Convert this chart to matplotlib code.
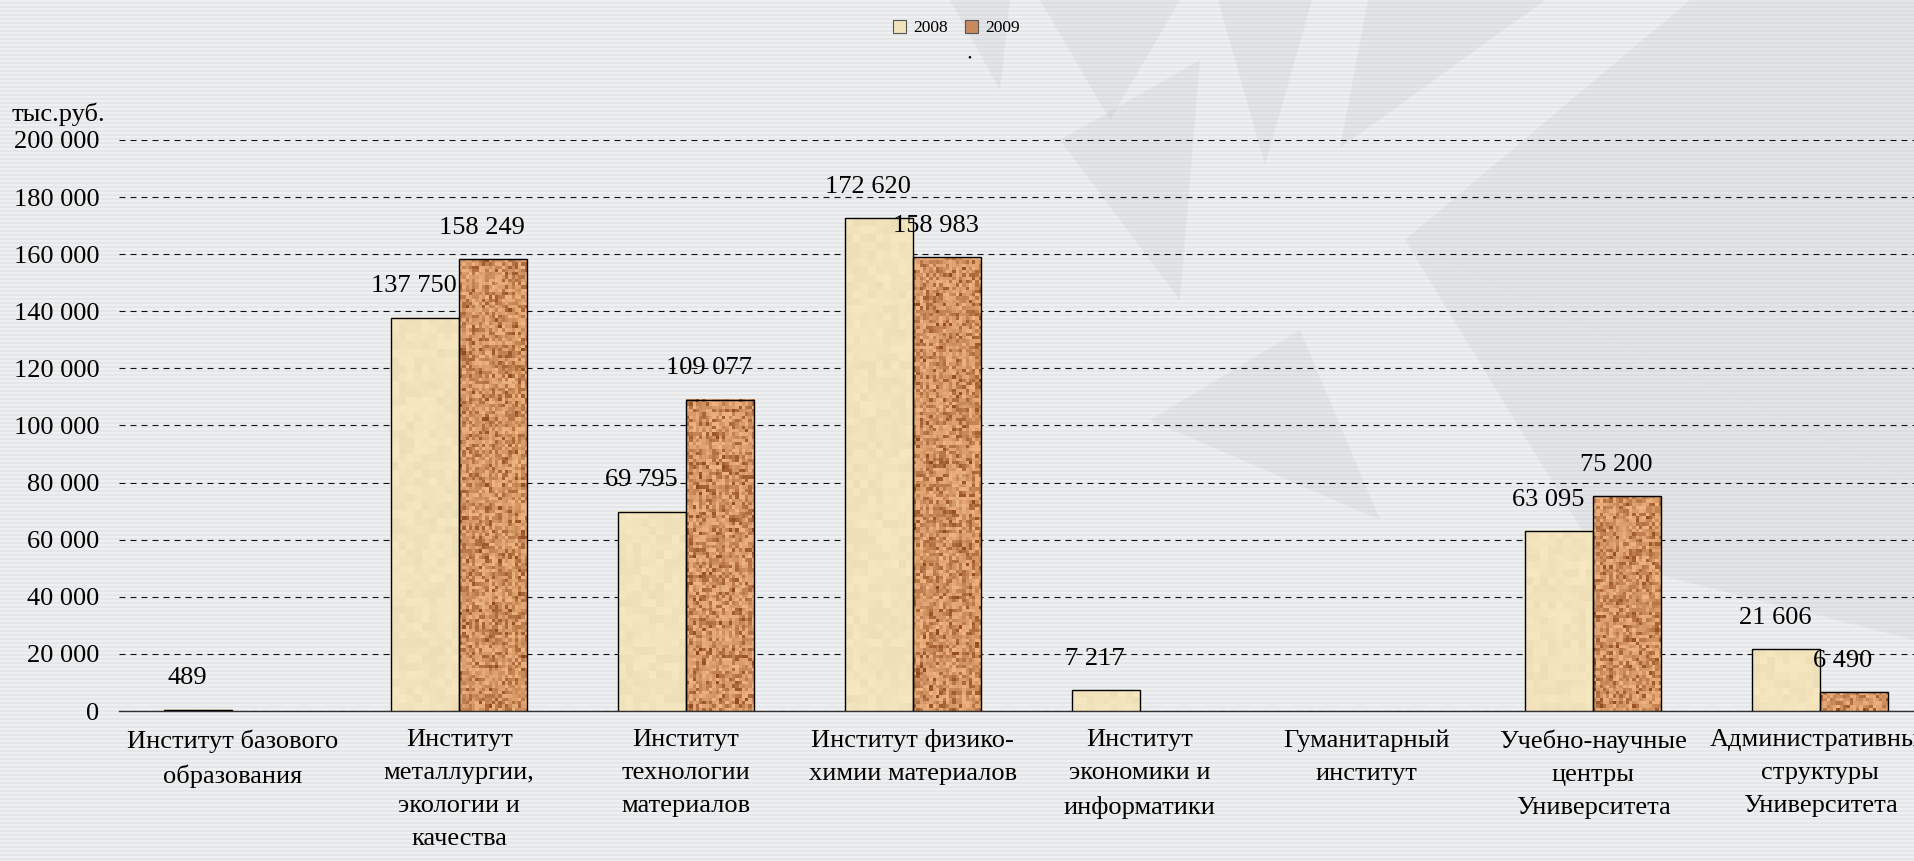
import numpy as np
import matplotlib
matplotlib.use("Agg")
import matplotlib.pyplot as plt
from matplotlib.patches import Patch, Polygon

plt.rcParams["font.family"] = ["Liberation Serif", "DejaVu Serif"]

# data (тыс. руб.)
categories = [
    "Институт базового\nобразования",
    "Институт\nметаллургии,\nэкологии и\nкачества",
    "Институт\nтехнологии\nматериалов",
    "Институт физико-\nхимии материалов",
    "Институт\nэкономики и\nинформатики",
    "Гуманитарный\nинститут",
    "Учебно-научные\nцентры\nУниверситета",
    "Административные\nструктуры\nУниверситета",
]
years = ["2008", "2009"]
values_2008 = [489, 137750, 69795, 172620, 7217, None, 63095, 21606]
values_2009 = [None, 158249, 109077, 158983, None, None, 75200, 6490]
y_ticks = list(range(0, 200001, 20000))


def noise(h, w, seed):
    i, j = np.mgrid[0:h, 0:w]
    v = np.sin(i * 12.9898 + j * 78.233 + seed) * 43758.5453
    return v - np.floor(v)


def tex_2009(h, w, seed):
    n = noise(h, w, seed) ** 0.5
    dark = np.array([0.55, 0.27, 0.10])
    light = np.array([0.94, 0.71, 0.51])
    return dark + (light - dark) * n[..., None]


def tex_2008(h, w, seed):
    n = noise(h, w, seed)
    base = np.array([0.95, 0.89, 0.74])
    return np.clip(base + (n[..., None] - 0.5) * 0.035, 0, 1)


W, H = 1915, 861
fig = plt.figure(figsize=(W / 100, H / 100), dpi=100)

# background: grey with fine horizontal stripes and pale triangles
bg = fig.add_axes([0, 0, 1, 1], zorder=-10)
rows = np.arange(H)
stripe = np.where(rows % 4 < 2, 0.0, -0.035)
img = np.array([0.935, 0.938, 0.945])[None, None, :] + stripe[:, None, None]
bg.imshow(np.clip(img, 0, 1), extent=[0, W, H, 0], aspect="auto", interpolation="nearest")
shapes = [
    [(1218, 0), (1312, 0), (1265, 165)],
    [(1368, 0), (1545, 0), (1340, 148)],
    [(1690, 0), (1915, 0), (1915, 480), (1405, 240)],
    [(1405, 240), (1915, 480), (1915, 640), (1600, 560)],
    [(1040, 0), (1180, 0), (1110, 120)],
    [(950, 0), (1010, 0), (1000, 90)],
    [(1060, 140), (1200, 60), (1180, 300)],
    [(1150, 420), (1300, 330), (1380, 520)],
]
for pts in shapes:
    bg.add_patch(Polygon(pts, closed=True, facecolor="#aeb2ba", alpha=0.16, lw=0))
bg.set_xlim(0, W)
bg.set_ylim(H, 0)
bg.axis("off")

# main axes (runs past the right edge like the original)
left, bottom, top = 119, 711, 140
group_px = 226.8
ax = fig.add_axes([left / W, 1 - bottom / H, 8 * group_px / W, (bottom - top) / H])
ax.patch.set_alpha(0)

x = np.arange(len(categories))
width = 0.3
series = [values_2008, values_2009]
textures = [tex_2008, tex_2009]
offsets = [-width / 2, width / 2]
cell_px = [8.0, 3.3]

for s, (vals, tex, off, cp) in enumerate(zip(series, textures, offsets, cell_px)):
    for i, v in enumerate(vals):
        if v is None:
            continue
        xc = x[i] + off
        ax.bar(xc, v, width, color="none", edgecolor="black", linewidth=1.0, zorder=4)
        px_h = v / 200000 * (bottom - top)
        nh = max(1, int(round(px_h / cp)))
        nw = max(1, int(round(width * group_px / cp)))
        ax.imshow(tex(nh, nw, i * 7 + s * 31), extent=[xc - width / 2, xc + width / 2, 0, v],
                  aspect="auto", interpolation="nearest", zorder=3)
        label = f"{v:,}".replace(",", " ")
        ax.annotate(label, (xc, v), xytext=(-8, 22.5), textcoords="offset points",
                    ha="center", va="center", fontsize=19, zorder=5)

ax.set_xlim(-0.5, len(categories) - 0.5)
ax.set_ylim(0, 200000)
ax.set_yticks(y_ticks)
ax.set_yticklabels([f"{t:,}".replace(",", " ") for t in y_ticks], fontsize=19)
ax.set_xticks(x)
ax.set_xticklabels(categories, fontsize=19, linespacing=1.65)
ax.tick_params(axis="y", length=0, pad=14)
ax.tick_params(axis="x", length=0, pad=13)
ax.yaxis.grid(True, linestyle=(0, (5.4, 4.5)), color="#111111", linewidth=0.8, zorder=1)
ax.set_axisbelow(True)
for side in ["top", "right", "left"]:
    ax.spines[side].set_visible(False)
ax.spines["bottom"].set_color("#333333")
ax.spines["bottom"].set_linewidth(1.0)

fig.text(12 / W, 1 - 103 / H, "тыс.руб.", fontsize=19, ha="left", va="top")

handles = [Patch(facecolor="#f2e3bd", edgecolor="#555555", linewidth=0.8),
           Patch(facecolor="#c98a5e", edgecolor="#555555", linewidth=0.8)]
fig.legend(handles, years, loc="upper center", bbox_to_anchor=(0.4995, 0.995), ncol=2,
           frameon=False, fontsize=12.5, handlelength=0.75, handleheight=0.75,
           handletextpad=0.4, columnspacing=1.0)
fig.text(969 / W, 1 - 58 / H, "•", fontsize=8, ha="center", va="center")

fig.savefig("out.png", dpi=100)
